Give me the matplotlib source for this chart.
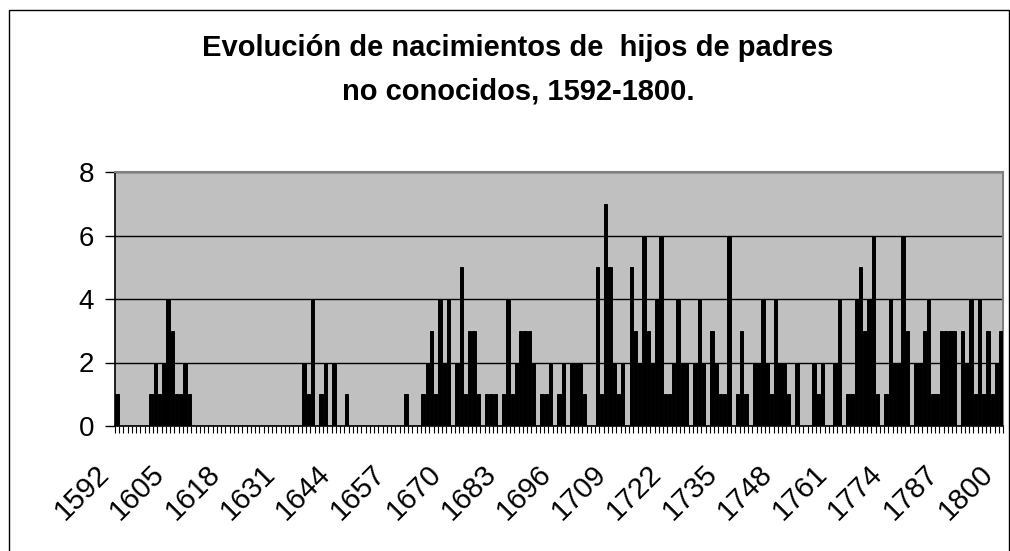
import matplotlib
matplotlib.use("Agg")
import matplotlib.pyplot as plt
from matplotlib.patches import Rectangle
from matplotlib.transforms import ScaledTranslation
import numpy as np

plt.rcParams['font.family'] = ['Liberation Sans', 'DejaVu Sans']

years = list(range(1592, 1801))
counts = [
    1, 0, 0, 0, 0, 0, 0, 0,            # 1592-1599
    1, 2, 1, 2, 4, 3, 1, 1, 2, 1,      # 1600-1609
    0, 0, 0, 0, 0, 0, 0, 0, 0, 0,      # 1610-1619
    0, 0, 0, 0, 0, 0, 0, 0, 0, 0,      # 1620-1629
    0, 0, 0, 0, 0, 0, 2, 1, 4, 0,      # 1630-1639
    1, 2, 0, 2, 0, 0, 1, 0, 0, 0,      # 1640-1649
    0, 0, 0, 0, 0, 0, 0, 0, 0, 0,      # 1650-1659
    1, 0, 0, 0, 1, 2, 3, 1, 4, 2,      # 1660-1669
    4, 0, 2, 5, 1, 3, 3, 1, 0, 1,      # 1670-1679
    1, 1, 0, 1, 4, 1, 2, 3, 3, 3,      # 1680-1689
    2, 0, 1, 1, 2, 0, 1, 2, 0, 2,      # 1690-1699
    2, 2, 1, 0, 0, 5, 1, 7, 5, 2,      # 1700-1709
    1, 2, 0, 5, 3, 2, 6, 3, 2, 4,      # 1710-1719
    6, 1, 1, 2, 4, 2, 2, 0, 2, 4,      # 1720-1729
    2, 0, 3, 2, 1, 1, 6, 0, 1, 3,      # 1730-1739
    1, 0, 2, 2, 4, 2, 1, 4, 2, 2,      # 1740-1749
    1, 0, 2, 0, 0, 0, 2, 1, 2, 0,      # 1750-1759
    0, 2, 4, 0, 1, 1, 4, 5, 3, 4,      # 1760-1769
    6, 1, 0, 1, 4, 2, 2, 6, 3, 0,      # 1770-1779
    2, 2, 3, 4, 1, 1, 3, 3, 3, 3,      # 1780-1789
    0, 3, 2, 4, 1, 4, 1, 3, 1, 2,      # 1790-1799
    3,                                 # 1800
]
label_years = list(range(1592, 1801, 13))
y_ticks = [0, 2, 4, 6, 8]

title_lines = ["Evolución de nacimientos de  hijos de padres",
               "no conocidos, 1592-1800."]

W, H = 1010, 551
fig = plt.figure(figsize=(W / 100, H / 100), dpi=100)
fig.patch.set_facecolor('white')

# outer chart border (bottom edge falls outside the image)
fig.patches.append(Rectangle((8.5 / W, -5 / H), (1009 - 8.5) / W, (541.5 + 5) / H,
                             transform=fig.transFigure, fill=False,
                             edgecolor='black', linewidth=1.0, zorder=0))

left, right, top, bottom = 115, 1003, 172, 426
ax = fig.add_axes([left / W, 1 - bottom / H, (right - left) / W, (bottom - top) / H])
ax.set_facecolor('#C0C0C0')

x = np.arange(len(years))
ax.bar(x, counts, width=0.8, color='black', edgecolor='black', linewidth=0.7, zorder=3)

ax.set_xlim(-0.5, len(years) - 0.5)
ax.set_ylim(0, 8)
ax.set_yticks(y_ticks)
ax.set_yticklabels([str(v) for v in y_ticks], fontsize=20)
ax.yaxis.grid(True, color='black', linewidth=1.0, zorder=1)
ax.set_axisbelow(True)

# category-boundary tick marks
ax.set_xticks(np.arange(len(years) + 1) - 0.5, minor=True)
ax.tick_params(axis='x', which='minor', length=5, width=0.8, direction='out', color='black')
lbl_pos = [years.index(yv) for yv in label_years]
ax.set_xticks(lbl_pos)
ax.set_xticklabels([str(v) for v in label_years], rotation=45, ha='right', va='top',
                   rotation_mode='anchor', fontsize=21)
ax.tick_params(axis='x', which='major', length=0, pad=24)
ax.tick_params(axis='y', length=7, width=1, direction='out', pad=8)
shift = ScaledTranslation(-22 / 100, 0, fig.dpi_scale_trans)
for lab in ax.get_xticklabels():
    lab.set_transform(lab.get_transform() + shift)

for s in ['top', 'right']:
    ax.spines[s].set_color('#808080')
    ax.spines[s].set_linewidth(1.5)
ax.spines['left'].set_color('black')
ax.spines['bottom'].set_color('black')
ax.spines['left'].set_linewidth(1.2)
ax.spines['bottom'].set_linewidth(1.2)

fig.text(518 / W, 1 - 48 / H, title_lines[0], ha='center', va='center', fontsize=21,
         fontweight='bold')
fig.text(518 / W, 1 - 91 / H, title_lines[1], ha='center', va='center', fontsize=21,
         fontweight='bold')

fig.savefig('out.png', dpi=100)
